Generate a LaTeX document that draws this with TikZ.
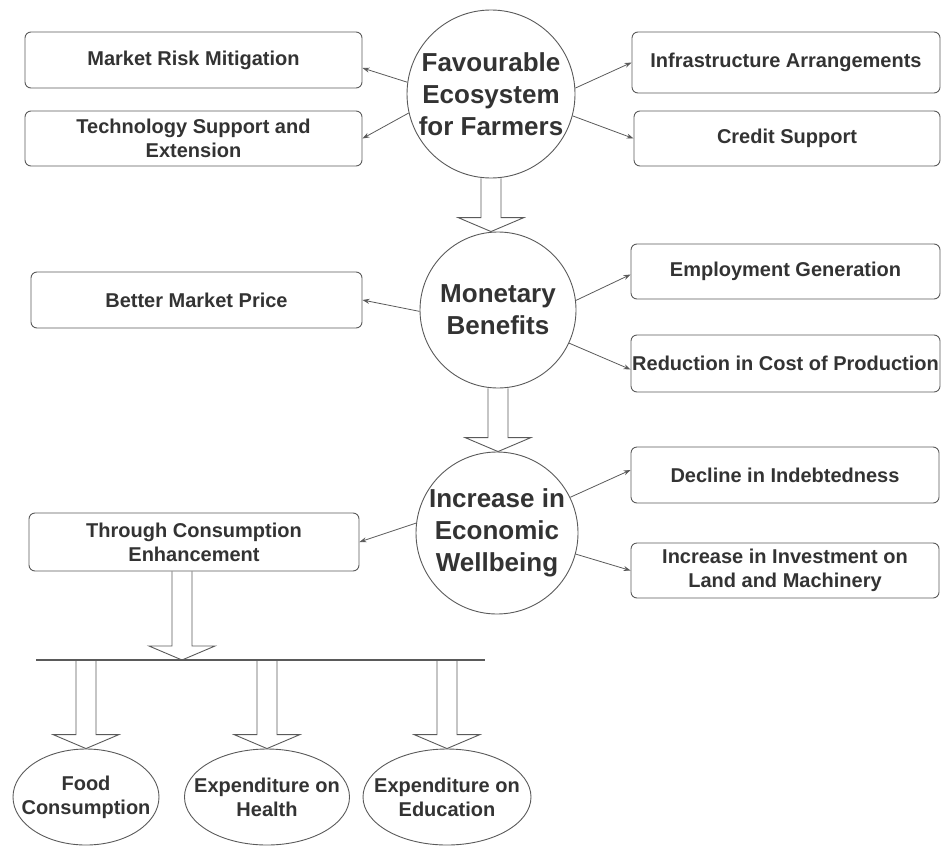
\documentclass[tikz,border=0pt]{standalone}
\usepackage{fontspec}
\setmainfont{Liberation Sans}
\usetikzlibrary{arrows.meta,calc,shapes.geometric}

\definecolor{linegray}{HTML}{5A5A5A}
\definecolor{textgray}{HTML}{333333}

% hollow block arrow, x taken from #1, tip at #2
\newcommand{\blockarr}[2]{%
  \draw[fat] let \p1=(#1), \p2=(#2) in
    (\x1-10,\y1) -- (\x1-10,\y2+14) -- (\x1-33,\y2+14) -- (\x1,\y2)
    -- (\x1+33,\y2+14) -- (\x1+10,\y2+14) -- (\x1+10,\y1);}

\begin{document}
\begin{tikzpicture}[x=1pt,y=-1pt,
  font=\fontsize{20}{24}\selectfont\bfseries, text=textgray,
  box/.style={draw=linegray, rounded corners=6pt, line width=0.9pt, align=center, inner sep=1pt},
  stage/.style={circle, draw=linegray, line width=0.9pt, align=center, inner sep=0pt,
    font=\fontsize{26}{32}\selectfont\bfseries},
  leaf/.style={ellipse, draw=linegray, line width=0.9pt, align=center,
    inner xsep=-30pt, inner ysep=0pt, minimum height=96pt},
  link/.style={draw=linegray, line width=0.8pt, -{Stealth[length=7pt,width=5pt]}},
  fat/.style={draw=linegray, line width=0.9pt}]
\useasboundingbox (0,0) rectangle (941,848);

\node[stage, minimum size=168pt] (eco) at (491,94) {Favourable\\Ecosystem\\for Farmers};
\node[box, minimum width=337pt, minimum height=56pt] (mrm) at (193.5,60) {Market Risk Mitigation};
\node[box, minimum width=337pt, minimum height=55pt] (tse) at (193.5,138.5) {Technology Support and\\Extension};
\node[box, minimum width=308pt, minimum height=61pt] (infra) at (786,62.5) {Infrastructure Arrangements};
\node[box, minimum width=306pt, minimum height=55pt] (credit) at (787,138.5) {Credit Support};

\node[stage, minimum size=156pt] (mon) at (498,310) {Monetary\\Benefits};
\node[box, minimum width=331pt, minimum height=56pt] (bmp) at (196.5,300) {Better Market Price};
\node[box, minimum width=309pt, minimum height=55pt] (emp) at (785.5,271.5) {Employment Generation};
\node[box, minimum width=309pt, minimum height=57pt] (red) at (785.5,363.5) {Reduction in Cost of Production};

\node[stage, minimum size=162pt] (wel) at (497,533) {Increase in\\Economic\\Wellbeing};
\node[box, minimum width=308pt, minimum height=56pt] (dec) at (785,475) {Decline in Indebtedness};
\node[box, minimum width=308pt, minimum height=55pt] (inv) at (785,570.5) {Increase in Investment on\\Land and Machinery};
\node[box, minimum width=330pt, minimum height=58pt] (thr) at (194,542) {Through Consumption\\Enhancement};

\node[leaf, minimum width=146pt] (food) at (86,797) {Food\\Consumption};
\node[leaf, minimum width=165pt] (health) at (267,797) {Expenditure on\\Health};
\node[leaf, minimum width=168pt] (edu) at (447,797) {Expenditure on\\Education};

\draw[link] (eco.172) -- ([yshift=-8pt]mrm.east);
\draw[link] (eco.193) -- (tse.east);
\draw[link] (eco.4) -- (infra.west);
\draw[link] (eco.345) -- (credit.west);

\draw[link] (mon.181) -- (bmp.east);
\draw[link] (mon.7) -- ([yshift=-3pt]emp.west);
\draw[link] (mon.335) -- ([yshift=-6pt]red.west);

\draw[link] (wel.26) -- ([yshift=5pt]dec.west);
\draw[link] (wel.345) -- (inv.west);
\draw[link] (wel.173) -- (thr.east);

\blockarr{eco.south}{mon.north}
\blockarr{mon.south}{wel.north}

\coordinate (barL) at (36,660);
\coordinate (barR) at (485,660);
\coordinate (hub) at (182,660);
\draw[draw=linegray, line width=1.2pt] (barL) -- (barR);
\blockarr{thr.south -| hub}{hub}
\blockarr{food.north |- hub}{food.north}
\blockarr{health.north |- hub}{health.north}
\blockarr{edu.north |- hub}{edu.north}

\end{tikzpicture}
\end{document}
